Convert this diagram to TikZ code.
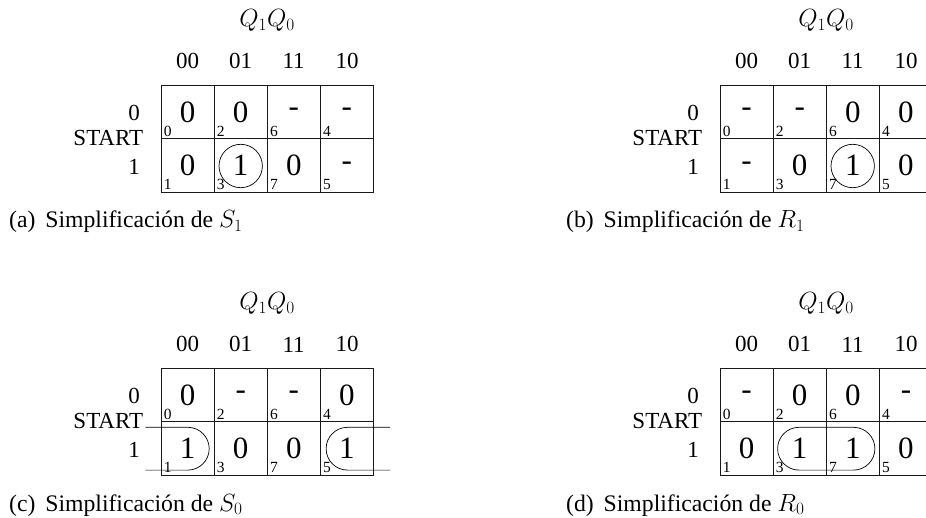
\documentclass[tikz,border=0pt]{standalone}
\usepackage[no-math]{fontspec}
\setmainfont{Liberation Serif}
\tikzset{
  gridline/.style={line width=0.9pt, black!90},
  loopline/.style={line width=0.7pt, black},
  cellval/.style={inner sep=0pt, font=\fontsize{31}{34}\selectfont},
  cellidx/.style={inner sep=0pt, font=\fontsize{15.5}{17}\selectfont},
  headlab/.style={inner sep=0pt, font=\fontsize{23}{25}\selectfont},
  capt/.style={inner sep=0pt, anchor=base west, font=\fontsize{23.7}{25}\selectfont}
}
\begin{document}
\begin{tikzpicture}[x=1pt, y=-1pt]
  \useasboundingbox (0,0) rectangle (926,518);
  % the four maps: name, left, top, shift of the 11 head, cell values
  \foreach \nm/\ox/\oy/\hh/\vals in {
      a/161/85.7/0/{0,0,-,-,0,1,0,-},
      b/720/85.7/0/{-,-,0,0,-,0,1,0},
      c/161/368.7/1.5/{0,-,-,0,1,0,0,1},
      d/720/368.7/1.5/{-,0,0,-,0,1,1,0}} {
    \begin{scope}[shift={(\ox,\oy)}]
      % grid
      \draw[gridline] (0,0) rectangle (212,106.5);
      \draw[gridline] (0,53.2) -- (212,53.2);
      \foreach \cx in {53,106.3,159.3}
        \draw[gridline] (\cx,0) -- (\cx,106.5);
      % cell values and minterm numbers
      \foreach \val [count=\k from 0] in \vals {
        \pgfmathtruncatemacro{\cl}{mod(\k,4)}
        \pgfmathtruncatemacro{\rw}{int(\k/4)}
        \pgfmathsetmacro{\vx}{\cl*53.1+26.6}
        \pgfmathsetmacro{\vy}{\rw*53.2+\if\val-27\else26.8\fi}
        \node[cellval] (\nm-v\k) at (\vx,\vy) {\val};
      }
      \foreach \mt/\cl/\rw in {0/0/0,2/1/0,6/2/0,4/3/0,1/0/1,3/1/1,7/2/1,5/3/1} {
        \node[cellidx] (\nm-i\mt) at ({\cl*53.1+6.7},{\rw*53.2+45.8}) {\mt};
      }
      % column heads
      \node[headlab] (\nm-h00) at (26.6,-25) {00};
      \node[headlab] (\nm-h01) at (79.5,-25) {01};
      \node[headlab] (\nm-h11) at (132.6,{-25+\hh}) {11};
      \node[headlab] (\nm-h10) at (186,-25) {10};
      \node[headlab] (\nm-qq) at (106,-65) {$Q_1Q_0$};
      % row labels
      \node[headlab, anchor=east] (\nm-r0) at (-21,27) {0};
      \node[headlab, anchor=east] (\nm-rs) at (-17.7,52.5) {START};
      \node[headlab, anchor=east] (\nm-r1) at (-21,81) {1};
    \end{scope}
  }
  % captions
  \node[capt] (capa) at (9,228) {(a)\, Simplificación de $S_1$};
  \node[capt] (capb) at (566,228) {(b)\, Simplificación de $R_1$};
  \node[capt] (capc) at (9,511) {(c)\, Simplificación de $S_0$};
  \node[capt] (capd) at (566,511) {(d)\, Simplificación de $R_0$};
  % groupings
  \draw[loopline] (240.7,166) circle (21.7);
  \draw[loopline] (852.7,166) circle (21.7);
  \draw[loopline] (145.3,427.3) -- (187.8,427.3) arc[start angle=-90, end angle=90, radius=21.4] -- (145.3,470.1);
  \draw[loopline] (390,427.3) -- (347.5,427.3) arc[start angle=-90, end angle=-270, radius=21.4] -- (390,470.1);
  \draw[loopline] (799,427.3) -- (853.5,427.3) arc[start angle=-90, end angle=90, radius=21.4] -- (799,470.1) arc[start angle=90, end angle=270, radius=21.4] -- cycle;
\end{tikzpicture}
\end{document}
